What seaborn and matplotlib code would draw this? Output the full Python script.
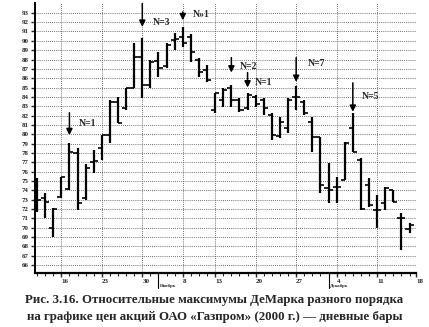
import matplotlib
matplotlib.use("Agg")
import matplotlib.pyplot as plt
import seaborn as sns
import numpy as np

# ---- data ----
highs = [75.3, 73.7, 72.1, 75.4, 79.1, 78.5, 76.8, 78.3, 79.9, 83.7,
         84.0, 85.0, 89.8, 90.3, 87.9, 88.8, 89.8, 90.8, 91.5, 90.7,
         88.2, 87.4, 84.4, 85.0, 85.3, 83.9, 84.4, 84.2, 83.9, 82.3,
         81.8, 83.9, 85.2, 83.7, 81.8, 79.7, 76.9, 75.4, 79.2, 82.3,
         77.5, 75.3, 73.5, 74.4, 74.0, 71.6, 70.5]
lows = [71.7, 71.0, 69.0, 73.2, 74.0, 71.9, 73.0, 75.9, 77.2, 79.1,
        81.2, 82.6, 85.0, 83.9, 85.0, 86.1, 87.1, 89.0, 89.3, 87.7,
        86.1, 85.6, 82.3, 82.9, 82.9, 82.4, 82.6, 82.9, 82.1, 79.4,
        79.6, 80.1, 82.6, 82.1, 78.1, 73.7, 72.6, 72.6, 75.1, 78.1,
        71.9, 72.2, 70.0, 71.9, 72.7, 67.6, 69.4]
opens = [75.1, 73.2, 70.0, 73.3, 74.1, 78.0, 73.2, 77.0, 78.5, 79.9,
         83.5, 82.8, 85.0, 88.3, 85.3, 87.8, 87.3, 90.1, 90.4, 90.4,
         88.0, 86.9, 82.6, 83.7, 85.0, 83.7, 82.8, 84.0, 83.7, 82.1,
         79.8, 80.7, 84.0, 83.5, 81.3, 79.7, 74.2, 74.4, 75.1, 80.7,
         77.2, 74.6, 71.9, 72.6, 74.0, 71.0, 69.8]
closes = [73.0, 72.7, 72.0, 75.4, 78.1, 72.6, 76.4, 77.1, 79.9, 83.5,
          81.2, 85.0, 88.3, 85.3, 87.7, 87.1, 89.6, 90.2, 89.8, 88.8,
          86.7, 85.8, 84.4, 84.7, 83.7, 82.6, 84.2, 83.2, 82.8, 79.9,
          81.3, 83.7, 84.0, 82.3, 79.7, 74.6, 74.0, 74.4, 79.1, 78.1,
          72.0, 72.4, 71.9, 74.2, 72.7, 71.0, 70.3]
tick_labels = ["16", "23", "30", "8", "13", "20", "27", "4", "11", "18"]
month_labels = ["Ноябрь", "Декабрь"]
arrow_labels = ["N=1", "N=3", "N»1", "N=2", "N=1", "N=7", "N=5"]
arrow_bars = [4, 13, 18, 24, 26, 32, 39]
y_labels = list(range(66, 94))

# ---- layout / style (not data) ----
tick_pos = [3, 8, 13, 18, 22, 27, 32, 37, 42, 46.8]
month_pos = [15, 36]
arrow_top = [82.3, 94.0, 93.1, 88.2, 86.6, 88.2, 85.5]
arrow_tip = [79.9, 91.5, 92.2, 86.6, 85.0, 85.6, 82.4]
text_xy = [(5.1, 81.2), (14.3, 92.0), (19.3, 92.8), (25.0, 87.2),
           (26.9, 85.5), (33.5, 87.6), (40.1, 84.0)]

sns.set_style("white")
plt.rcParams["font.family"] = ["Liberation Serif", "DejaVu Serif"]

fig = plt.figure(figsize=(4.29, 3.27), dpi=100)
ax = fig.add_axes([35 / 429, 1 - 273 / 327, (416 - 35) / 429, (273 - 3) / 327])

x = np.arange(len(highs))
ax.vlines(x, lows, highs, color="black", lw=1.6, zorder=3)
ax.hlines(opens, x - 0.5, x, color="black", lw=1.2, zorder=3)
ax.hlines(closes, x, x + 0.5, color="black", lw=1.2, zorder=3)

ax.set_xlim(-0.25, 46.8)
ax.set_ylim(65.14, 94.05)

ax.set_yticks(y_labels)
ax.set_yticklabels([str(v) for v in y_labels], fontsize=5, fontweight="bold")
ax.set_xticks(tick_pos)
ax.set_xticklabels(tick_labels, fontsize=5, fontweight="bold", ha="left")
ax.set_xticks(np.arange(0, 47), minor=True)
ax.tick_params(axis="y", direction="out", length=3, width=1, pad=1.5, left=True)
ax.tick_params(axis="x", which="major", direction="out", length=3, width=1, pad=1, bottom=True)
ax.tick_params(axis="x", which="minor", direction="out", length=2, width=0.8, bottom=True)

ax.grid(True, which="major", axis="both", linestyle=(0, (1, 1.5)), color="#444444", lw=0.6)
for s in ["top", "right"]:
    ax.spines[s].set_visible(False)
ax.spines["left"].set_linewidth(1.4)
ax.spines["bottom"].set_linewidth(1.6)
ax.spines["left"].set_color("black")
ax.spines["bottom"].set_color("black")

trans = ax.get_xaxis_transform()
for pos, lab in zip(month_pos, month_labels):
    ax.plot([pos, pos], [0, -0.055], transform=trans, color="black", lw=0.8, clip_on=False)
    ax.text(pos + 0.2, -0.048, lab, transform=trans, fontsize=3.5, fontweight="bold",
            ha="left", va="center")

for b, lab, top, tip, (tx, ty) in zip(arrow_bars, arrow_labels, arrow_top, arrow_tip, text_xy):
    ax.annotate("", xy=(b, tip), xytext=(b, top),
                arrowprops=dict(arrowstyle="-|>", color="black", lw=1.1,
                                mutation_scale=9, shrinkA=0, shrinkB=0))
    ax.text(tx, ty, lab, fontsize=7, fontweight="bold", ha="left", va="center")

fig.text(0.5, 1 - 300 / 327, "Рис. 3.16. Относительные максимумы ДеМарка разного порядка",
         ha="center", va="center", fontsize=9.3, fontweight="bold")
fig.text(0.5, 1 - 317 / 327, "на графике цен акций ОАО «Газпром» (2000 г.) — дневные бары",
         ha="center", va="center", fontsize=9.3, fontweight="bold")

fig.savefig("out.png", dpi=100)
